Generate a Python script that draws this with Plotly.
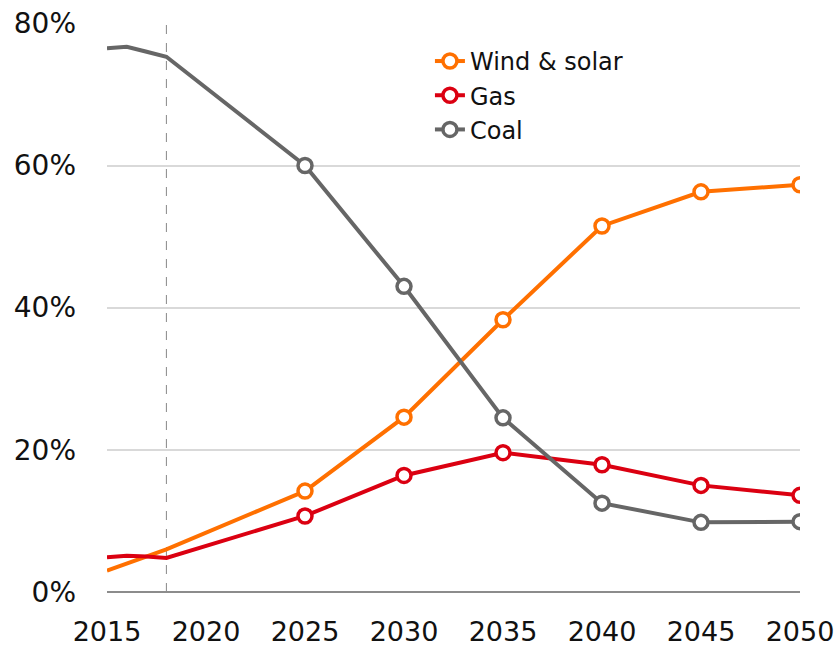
import plotly.graph_objects as go

years = [2015, 2016, 2017, 2018, 2025, 2030, 2035, 2040, 2045, 2050]
wind_solar = [3.0, 4.0, 5.0, 6.0, 14.2, 24.6, 38.3, 51.5, 56.3, 57.3]
gas = [4.9, 5.1, 5.0, 4.8, 10.7, 16.4, 19.6, 17.9, 15.0, 13.6]
coal = [76.5, 76.7, 76.0, 75.3, 60.0, 43.0, 24.5, 12.5, 9.8, 9.9]
names = ["Wind & solar", "Gas", "Coal"]
colors = ["#FF7000", "#DB0011", "#666666"]
tick_years = [2015, 2020, 2025, 2030, 2035, 2040, 2045, 2050]
y_ticks = [0, 20, 40, 60, 80]
split = 4  # index of first marked year (2025)

fig = go.Figure()
for name, vals, col in zip(names, [wind_solar, gas, coal], colors):
    fig.add_trace(go.Scatter(x=years[:split + 1], y=vals[:split + 1], mode="lines",
                             line=dict(color=col, width=4), showlegend=False,
                             legendgroup=name, hoverinfo="skip"))
    fig.add_trace(go.Scatter(x=years[split:], y=vals[split:], mode="lines+markers", name=name,
                             legendgroup=name,
                             line=dict(color=col, width=4),
                             marker=dict(symbol="circle", size=14, color="white",
                                         line=dict(color=col, width=3.5))))

fig.add_shape(type="line", x0=2018, x1=2018, y0=0, y1=80, xref="x", yref="y",
              line=dict(color="#888888", width=1, dash="dash"), layer="below")

fig.update_layout(
    width=839, height=647,
    margin=dict(l=107, r=39, t=23, b=55, autoexpand=False),
    paper_bgcolor="white", plot_bgcolor="white",
    font=dict(family="DejaVu Sans, sans-serif", size=26, color="#111111"),
    legend=dict(x=0.466, y=0.972, xanchor="left", yanchor="top",
                font=dict(size=24), bgcolor="rgba(0,0,0,0)", tracegroupgap=0),
    showlegend=True,
)
fig.update_xaxes(range=[2015, 2050], tickvals=tick_years, ticktext=[str(t) for t in tick_years],
                 showgrid=False, zeroline=False, showline=False, ticks="",
                 tickfont=dict(size=27), ticklabelstandoff=21, automargin=False,
                 ticklabeloverflow="allow")
fig.update_yaxes(range=[0, 80.05], tickvals=y_ticks, ticktext=[f"{v}%" for v in y_ticks],
                 showgrid=True, gridcolor="#D9D9D9", gridwidth=1.5,
                 zeroline=True, zerolinecolor="#8C8C8C", zerolinewidth=2,
                 showline=False, ticks="", tickfont=dict(size=28), ticklabelstandoff=30,
                 automargin=False, ticklabeloverflow="allow")

fig.write_html("out.html", config={"displayModeBar": False},
               post_script="document.body.style.margin='0';document.body.style.overflow='hidden';")
